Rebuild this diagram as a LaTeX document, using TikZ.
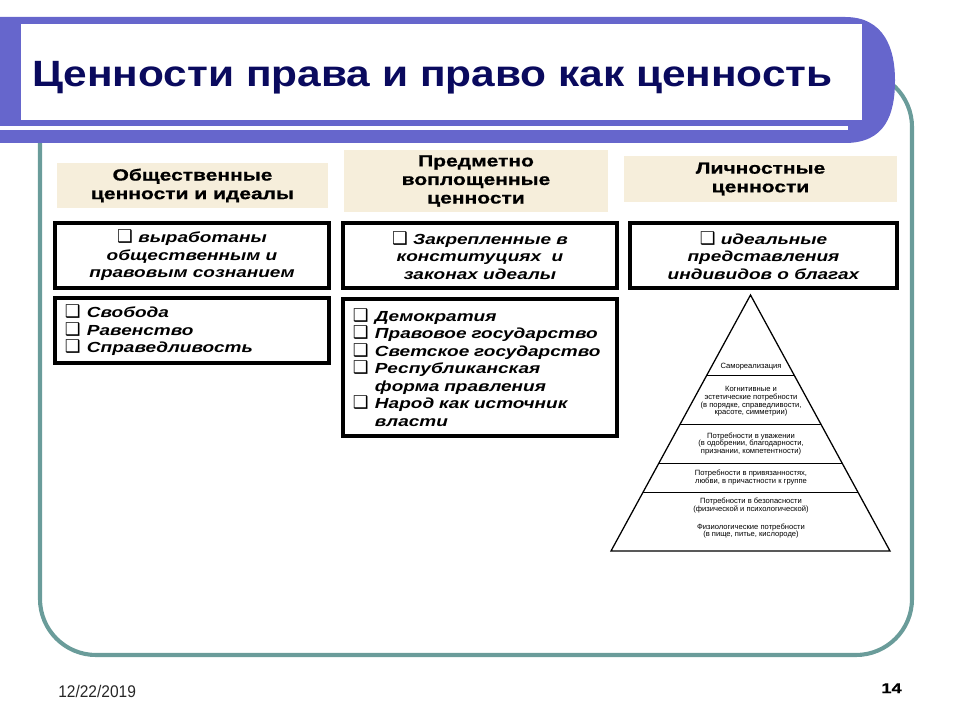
\documentclass[tikz,border=0pt]{standalone}
\usepackage{fontspec}
\setmainfont{Liberation Sans}
\newfontfamily\widefont[FakeStretch=1.3,BoldFeatures={FakeBold=0.8}]{Liberation Sans}
\newfontfamily\titlefont[FakeStretch=1.16]{Liberation Sans}
\newfontfamily\datefont[FakeStretch=0.92]{Liberation Sans}
\newfontfamily\symfont{DejaVu Sans}
\usetikzlibrary{calc}
\definecolor{slidepurple}{HTML}{6666CC}
\definecolor{titlenavy}{HTML}{0A0A5E}
\definecolor{frameteal}{HTML}{6A9C9A}
\definecolor{headbeige}{HTML}{F6EEDB}
\newcommand{\chk}{{\symfont\mdseries\upshape\fontsize{12.5}{12.5}\selectfont ❑}}
\newcommand{\itm}{\makebox[0.55cm][l]{\chk}}

\begin{document}
\begin{tikzpicture}[x=0.025cm,y=-0.025cm,
  hdr/.style={fill=headbeige,inner sep=0pt,align=center,
    font=\widefont\bfseries\fontsize{11.5}{13.2}\selectfont},
  box/.style={draw=black,line width=2.2pt,fill=white,inner sep=0pt,align=center,
    font=\widefont\bfseries\itshape\fontsize{10.4}{12.5}\selectfont},
  lst/.style={box,align=left,inner xsep=0.25cm,text width=6.35cm},
  pyr/.style={inner sep=0pt,align=center,font=\fontsize{5.4}{5.5}\selectfont}]
\useasboundingbox (0,0) rectangle (960,720);
% frame and title band
\draw[frameteal,line width=2.9pt,rounded corners=1.4cm] (40,71) rectangle (912,655);
\fill[slidepurple] (0,17) -- (845,17) .. controls (885,17) and (895,50) .. (895,80)
  .. controls (895,115) and (885,143) .. (845,143) -- (0,143) -- cycle;
\fill[white] (21,24) rectangle (862,120);
\fill[white] (0,126) rectangle (848,130);
\node[anchor=base west,text=titlenavy,inner sep=0pt,
  font=\titlefont\bfseries\fontsize{26}{30}\selectfont] (title) at (32,87)
  {Ценности права и право как ценность};
% column headers
\node[hdr,minimum width=6.775cm,minimum height=1.125cm] (h1) at (192.5,185.5)
  {Общественные\\ценности и идеалы};
\node[hdr,minimum width=6.6cm,minimum height=1.55cm] (h2) at (476,181)
  {Предметно\\воплощенные\\ценности};
\node[hdr,minimum width=6.825cm,minimum height=1.15cm] (h3) at (760.5,179)
  {Личностные\\ценности};
% definitions
\node[box,minimum width=6.85cm,minimum height=1.625cm] (b1) at (192,255.5)
  {\chk\ выработаны\\общественным и\\правовым сознанием};
\node[box,minimum width=6.85cm,minimum height=1.625cm] (b2) at (480,255.5)
  {\chk\ Закрепленные в\\конституциях~ и\\законах идеалы};
\node[box,minimum width=6.675cm,minimum height=1.625cm] (b3) at (763.5,255.5)
  {\chk\ идеальные\\представления\\индивидов о благах};
% examples
\node[lst,minimum width=6.85cm,minimum height=1.625cm] (l1) at (192,330.5)
  {\itm Свобода\\\itm Равенство\\\itm Справедливость};
\node[lst,minimum width=6.85cm,minimum height=3.425cm] (l2) at (480,367.5)
  {\itm Демократия\\\itm Правовое государство\\\itm Светское государство\\
   \itm Республиканская\\\hspace*{0.55cm}форма правления\\
   \itm Народ как источник\\\hspace*{0.55cm}власти};
% pyramid of needs
\coordinate (pt) at (750.5,295);
\coordinate (pl) at (611,551);
\coordinate (pr) at (890,551);
\draw[line width=0.9pt,line join=miter] (pt) -- (pl) -- (pr) -- cycle;
\foreach \t in {0.3125,0.504,0.656,0.773}
  \draw[line width=0.6pt] ($(pt)!\t!(pl)$) -- ($(pt)!\t!(pr)$);
\node[pyr] (p1) at (751,367) {Самореализация};
\node[pyr] (p2) at (751,401.5) {Когнитивные и\\эстетические потребности\\(в порядке, справедливости,\\красоте, симметрии)};
\node[pyr] (p3) at (751,444) {Потребности в уважении\\(в одобрении, благодарности,\\признании, компетентности)};
\node[pyr] (p4) at (751,477.5) {Потребности в привязанностях,\\любви, в причастности к группе};
\node[pyr] (p5) at (751,505.5) {Потребности в безопасности\\(физической и психологической)};
\node[pyr] (p6) at (751,531) {Физиологические потребности\\(в пище, питье, кислороде)};
% footer
\node[anchor=base west,inner sep=0pt,text=black!85,
  font=\datefont\fontsize{12}{14}\selectfont] (date) at (58,697) {12/22/2019};
\node[anchor=base east,inner sep=0pt,
  font=\widefont\bfseries\fontsize{10}{12}\selectfont] (page) at (902,693) {14};
\end{tikzpicture}
\end{document}
